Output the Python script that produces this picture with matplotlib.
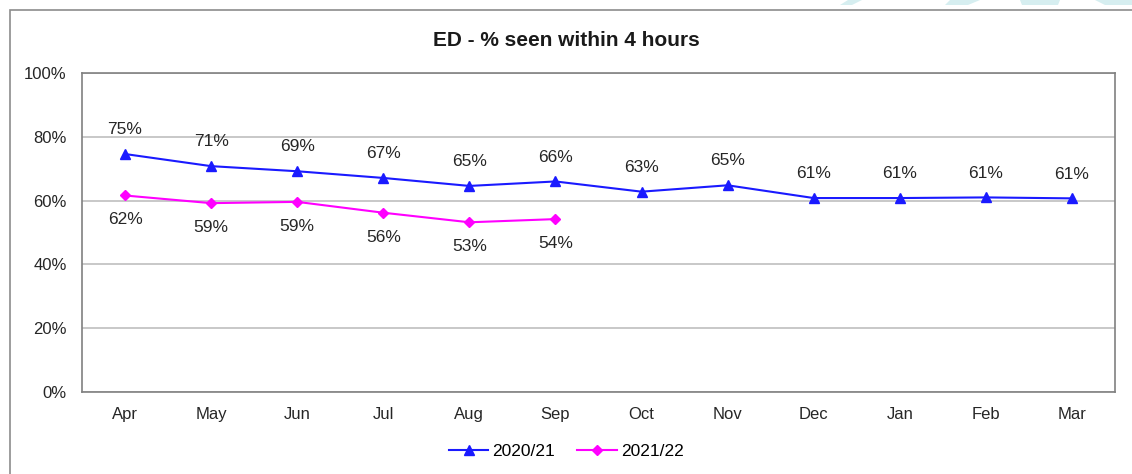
import matplotlib
matplotlib.use("Agg")
import matplotlib.pyplot as plt
from matplotlib.patches import Rectangle, Polygon

plt.rcParams['font.family'] = ['Liberation Sans', 'DejaVu Sans']

months = ["Apr", "May", "Jun", "Jul", "Aug", "Sep", "Oct", "Nov", "Dec", "Jan", "Feb", "Mar"]
series_2020 = [74.6, 70.8, 69.2, 67.1, 64.6, 66.0, 62.8, 64.8, 60.8, 60.8, 61.0, 60.7]
series_2021 = [61.6, 59.2, 59.6, 56.2, 53.2, 54.2]
labels_2020 = ["75%", "71%", "69%", "67%", "65%", "66%", "63%", "65%", "61%", "61%", "61%", "61%"]
labels_2021 = ["62%", "59%", "59%", "56%", "53%", "54%"]
yticks = [0, 20, 40, 60, 80, 100]

W, H = 1132, 474
fig = plt.figure(figsize=(W / 100, H / 100), dpi=100)

# faint background watermark strips at the top right
for pts in ([(848, 0), (862, 0), (852, 5), (840, 5)],
            [(950, 0), (980, 0), (968, 5), (945, 5)],
            [(1020, 0), (1060, 0), (1058, 5), (1022, 5)],
            [(1095, 0), (1132, 0), (1132, 5), (1105, 5)]):
    fig.patches.append(Polygon([(px / W, 1 - py / H) for px, py in pts], closed=True,
                               transform=fig.transFigure, facecolor="#d6eef0", edgecolor="none"))

fig.patches.append(Rectangle((10 / W, -0.1), 1.2, (H - 10) / H + 0.1, transform=fig.transFigure,
                             fill=False, edgecolor="#8c8c8c", linewidth=1.2))

ax = fig.add_axes([82 / W, (H - 392) / H, (1115 - 82) / W, (392 - 73) / H])
x = list(range(len(months)))
ax.plot(x, series_2020, color="#1a1aff", marker="^", markersize=7.5, linewidth=1.5, label="2020/21")
ax.plot(x[:len(series_2021)], series_2021, color="#ff00ff", marker="D", markersize=5, linewidth=1.5, label="2021/22")

for xi, v, lab in zip(x, series_2020, labels_2020):
    ax.annotate(lab, (xi, v), xytext=(0, 17.5), textcoords="offset points", ha="center", va="center",
                fontsize=12.5, color="#262626")
for xi, v, lab in zip(x, series_2021, labels_2021):
    ax.annotate(lab, (xi, v), xytext=(0, -17.5), textcoords="offset points", ha="center", va="center",
                fontsize=12.5, color="#262626")

ax.set_xlim(-0.5, len(months) - 0.5)
ax.set_ylim(0, 100)
ax.set_yticks(yticks)
ax.set_yticklabels([f"{t}%" for t in yticks], fontsize=12, color="#262626")
ax.set_xticks(x)
ax.set_xticklabels(months, fontsize=12, color="#262626")
ax.tick_params(axis="both", length=0)
ax.tick_params(axis="x", pad=11)
ax.tick_params(axis="y", pad=11)
ax.grid(axis="y", color="#bfbfbf", linewidth=1.2)
ax.set_axisbelow(True)
for s in ax.spines.values():
    s.set_color("#808080")
    s.set_linewidth(1.2)

fig.text(0.5, (H - 40) / H, "ED - % seen within 4 hours", ha="center", va="center",
         fontsize=15, fontweight="bold", color="#1a1a1a")

fig.legend(loc="center", bbox_to_anchor=(0.5, (H - 451) / H), ncol=2, frameon=False,
           fontsize=12.5, handlelength=2.3, columnspacing=1.3, handletextpad=0.2)

fig.savefig("out.png", dpi=100)
